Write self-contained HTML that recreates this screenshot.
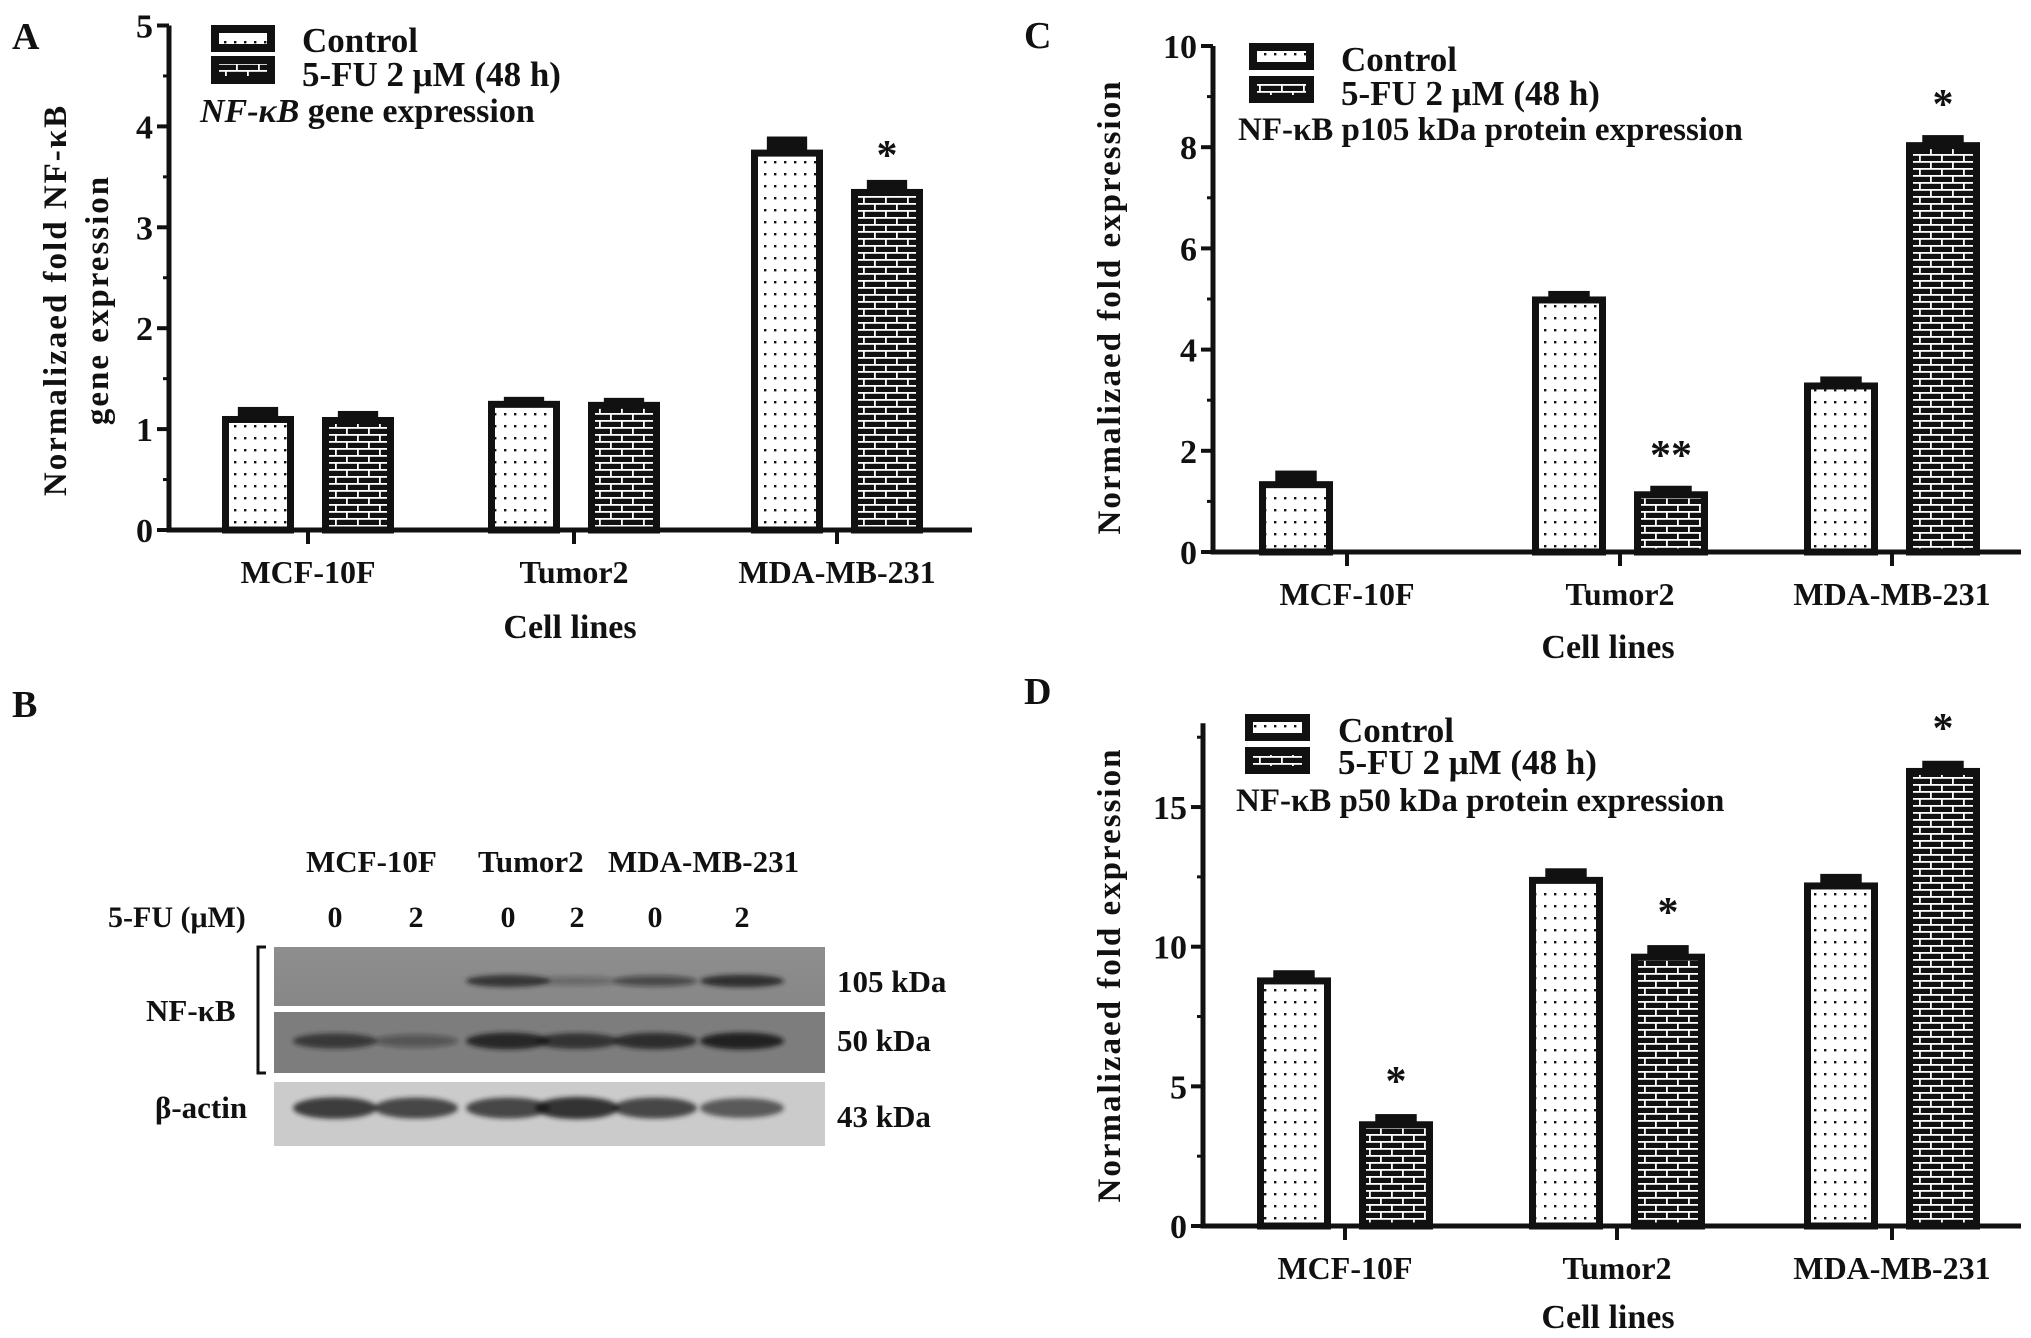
<!DOCTYPE html>
<html><head><meta charset="utf-8"><style>
html,body{margin:0;padding:0;background:#fff;}
svg{display:block;}
text{font-family:"Liberation Serif",serif;font-weight:bold;fill:#111;}
</style></head><body>
<svg id="fig" width="2031" height="1338" viewBox="0 0 2031 1338" xmlns="http://www.w3.org/2000/svg">
<defs>
<pattern id="dots" width="10" height="12" patternUnits="userSpaceOnUse">
<rect width="10" height="12" fill="#fff"/><rect x="4" y="5" width="2.4" height="2.4" fill="#111"/>
</pattern>
<pattern id="brick" width="22" height="14" patternUnits="userSpaceOnUse">
<rect width="22" height="14" fill="#111"/>
<rect x="0" y="0" width="22" height="1.8" fill="#fff"/>
<rect x="0" y="7" width="22" height="1.8" fill="#fff"/>
<rect x="5" y="0" width="1.8" height="7" fill="#fff"/>
<rect x="16" y="7" width="1.8" height="7" fill="#fff"/>
</pattern>
<linearGradient id="g1" x1="0" x2="0" y1="0" y2="1"><stop offset="0" stop-color="#8e8e8e"/><stop offset="1" stop-color="#878787"/></linearGradient>
<filter id="blur"><feGaussianBlur stdDeviation="2.5"/></filter>
</defs>

<text x="12" y="49" font-size="38">A</text>
<text x="12" y="717" font-size="38">B</text>
<text x="1024" y="48" font-size="38">C</text>
<text x="1024" y="704" font-size="38">D</text>

<g>
<rect x="215" y="29" width="56" height="19" fill="url(#dots)" stroke="#111" stroke-width="8"/>
<rect x="215" y="60" width="56" height="20" fill="url(#brick)" stroke="#111" stroke-width="8"/>
<text x="302" y="52" font-size="35">Control</text>
<text x="302" y="86" font-size="35">5-FU 2 μM (48 h)</text>
<text x="200" y="122" font-size="34"><tspan font-style="italic">NF-κB</tspan> gene expression</text>
</g>
<text transform="translate(66,300) rotate(-90)" text-anchor="middle" font-size="33" letter-spacing="2">Normalizaed fold  NF-κB</text>
<text transform="translate(108,300) rotate(-90)" text-anchor="middle" font-size="33" letter-spacing="2">gene expression</text>
<text x="570" y="638" text-anchor="middle" font-size="34">Cell lines</text>

<g>
<rect x="1253" y="47" width="57" height="19" fill="url(#dots)" stroke="#111" stroke-width="8"/>
<rect x="1253" y="80" width="57" height="19" fill="url(#brick)" stroke="#111" stroke-width="8"/>
<text x="1341" y="71" font-size="35">Control</text>
<text x="1341" y="105" font-size="35">5-FU 2 μM (48 h)</text>
<text x="1238" y="140" font-size="33">NF-κB p105 kDa protein expression</text>
</g>
<text transform="translate(1120,307) rotate(-90)" text-anchor="middle" font-size="33" letter-spacing="2">Normalizaed fold  expression</text>
<text x="1608" y="658" text-anchor="middle" font-size="34">Cell lines</text>

<g>
<rect x="1249" y="718" width="57" height="19" fill="url(#dots)" stroke="#111" stroke-width="8"/>
<rect x="1249" y="751" width="57" height="19" fill="url(#brick)" stroke="#111" stroke-width="8"/>
<text x="1338" y="742" font-size="35">Control</text>
<text x="1338" y="774" font-size="35">5-FU 2 μM (48 h)</text>
<text x="1236" y="811" font-size="33">NF-κB p50 kDa protein expression</text>
</g>
<text transform="translate(1120,975) rotate(-90)" text-anchor="middle" font-size="33" letter-spacing="2">Normalizaed fold  expression</text>
<text x="1608" y="1328" text-anchor="middle" font-size="34">Cell lines</text>

<g>
<text x="306" y="872" font-size="31">MCF-10F</text>
<text x="478" y="872" font-size="31">Tumor2</text>
<text x="608" y="872" font-size="31">MDA-MB-231</text>
<text x="108" y="927" font-size="30">5-FU (μM)</text>
<g id="doses"></g>
<rect x="274" y="947" width="551" height="59" fill="url(#g1)"/>
<rect x="274" y="1012" width="551" height="61" fill="#7d7d7d"/>
<rect x="274" y="1082" width="551" height="64" fill="#cbcbcb"/>
<g id="bands" filter="url(#blur)"></g>
<path d="M266 947 H258 V1073 H266" fill="none" stroke="#111" stroke-width="3"/>
<text x="146" y="1021" font-size="31">NF-κB</text>
<text x="155" y="1118" font-size="31">β-actin</text>
<text x="837" y="992" font-size="31">105 kDa</text>
<text x="837" y="1051" font-size="31">50 kDa</text>
<text x="837" y="1127" font-size="31">43 kDa</text>
</g>

<g id="charts"></g>
</svg>
<script>
const categories = ["MCF-10F","Tumor2","MDA-MB-231"];
const seriesNames = ["Control","5-FU 2 μM (48 h)"];
const geneControl = [1.13, 1.28, 3.77];
const geneControlErr = [0.06, 0.01, 0.10];
const gene5FU = [1.12, 1.27, 3.38];
const gene5FUErr = [0.03, 0.01, 0.06];
const p105Control = [1.4, 5.05, 3.35];
const p105ControlErr = [0.15, 0.05, 0.06];
const p1055FU = [0, 1.2, 8.1];
const p1055FUErr = [0, 0.05, 0.08];
const p50Control = [8.9, 12.5, 12.3];
const p50ControlErr = [0.15, 0.2, 0.2];
const p505FU = [3.75, 9.75, 16.4];
const p505FUErr = [0.15, 0.2, 0.15];
const geneTicks = [0,1,2,3,4,5];
const p105Ticks = [0,2,4,6,8,10];
const p50Ticks = [0,5,10,15];
const geneStars = ["","","*"];
const p105Stars = ["","**","*"];
const p50Stars = ["*","*","*"];
const doseLabels = ["0","2","0","2","0","2"];
const band105 = [0, 0, 0.75, 0.3, 0.55, 0.8];
const band50 = [0.7, 0.4, 0.85, 0.75, 0.8, 0.9];
const bandActin = [0.8, 0.75, 0.75, 0.85, 0.75, 0.65];

const NS = "http://www.w3.org/2000/svg";
function mk(tag, attrs, parent){
  const e = document.createElementNS(NS, tag);
  for (const k in attrs) e.setAttribute(k, attrs[k]);
  parent.appendChild(e);
  return e;
}
const charts = document.getElementById("charts");

function drawChart(cfg){
  const g = mk("g", {}, charts);
  
  
  const y = v => cfg.y0 - v * cfg.ppu;
  const yTop = y(cfg.yMax);
  const ax = mk("path", {d:`M${cfg.x0} ${yTop} V${cfg.y0} H${cfg.xEnd}`, fill:"none", stroke:"#111", "stroke-width":5}, g);
  
  
  for (let v = 0; v <= cfg.yMax + 1e-6; v += cfg.minor){
    mk("line", {x1:cfg.x0-6, x2:cfg.x0, y1:y(v), y2:y(v), stroke:"#111", "stroke-width":3}, g);
  }
  cfg.ticks.forEach(t => {
    mk("line", {x1:cfg.x0-12, x2:cfg.x0, y1:y(t), y2:y(t), stroke:"#111", "stroke-width":4}, g);
    const tx = mk("text", {x:cfg.x0-16, y:y(t)+12, "text-anchor":"end", "font-size":34}, g);
    tx.textContent = t;
    
    
  });
  categories.forEach((c, i) => {
    const cx = cfg.centers[i];
    mk("line", {x1:cx, x2:cx, y1:cfg.y0, y2:cfg.y0+14, stroke:"#111", "stroke-width":4}, g);
    const lb = mk("text", {x:cx, y:cfg.y0+53, "text-anchor":"middle", "font-size":32}, g);
    lb.textContent = c;
    
    
    const sets = [[cfg.ctrl, cfg.ctrlErr, "url(#dots)", -1], [cfg.tr, cfg.trErr, "url(#brick)", 1]];
    sets.forEach(([vals, errs, fill, side], s) => {
      const v = vals[i];
      if (v <= 0) return;
      const bx = cx + side * cfg.off - cfg.bw/2;
      const r = mk("rect", {x:bx+3.5, y:y(v)+3.5, width:cfg.bw-7, height:cfg.y0-y(v)-3.5, fill:fill, stroke:"#111", "stroke-width":7}, g);
      
      
      const e = errs[i];
      const ecx = bx + cfg.bw/2;
      const eb = mk("rect", {x:ecx-cfg.bw*0.28, y:y(v+e)-3, width:cfg.bw*0.56, height:Math.max(6, y(v)-y(v+e)+6), fill:"#111"}, g);
      
      
      if (s === 1 && cfg.stars[i]){
        const st = mk("text", {x:ecx, y:y(v+e)-cfg.starGap, "text-anchor":"middle", "font-size":42}, g);
        st.textContent = cfg.stars[i];
        
        
      }
    });
  });
}

drawChart({name:"chart-a-gene", x0:169, y0:530, ppu:100.9, yMax:5, minor:0.5, xEnd:972,
  ticks:geneTicks, centers:[308,574,837], off:50, bw:72,
  ctrl:geneControl, ctrlErr:geneControlErr, tr:gene5FU, trErr:gene5FUErr, stars:geneStars, starGap:14});
drawChart({name:"chart-c-p105", x0:1213, y0:552, ppu:50.6, yMax:10, minor:1, xEnd:2021,
  ticks:p105Ticks, centers:[1347,1620,1892], off:51, bw:74,
  ctrl:p105Control, ctrlErr:p105ControlErr, tr:p1055FU, trErr:p1055FUErr, stars:p105Stars, starGap:20});
drawChart({name:"chart-d-p50", x0:1203, y0:1226, ppu:27.93, yMax:18, minor:2.5, xEnd:2021,
  ticks:p50Ticks, centers:[1345,1617,1892], off:51, bw:74,
  ctrl:p50Control, ctrlErr:p50ControlErr, tr:p505FU, trErr:p505FUErr, stars:p50Stars, starGap:22});

const laneX = [335, 416, 508, 577, 655, 742];
const dg = document.getElementById("doses");
doseLabels.forEach((d, i) => {
  const t = mk("text", {x:laneX[i], y:927, "text-anchor":"middle", "font-size":30}, dg);
  t.textContent = d;
  
  
});
const bg = document.getElementById("bands");
function bands(arr, cy, h){
  arr.forEach((a, i) => {
    if (a <= 0) return;
    const e = mk("ellipse", {cx:laneX[i], cy:cy, rx:42, ry:h*(0.5+a*0.5), fill:"#1a1a1a", "fill-opacity":a}, bg);
    
    
  });
}
bands(band105, 981, 7);
bands(band50, 1041, 9);
bands(bandActin, 1108, 12);
</script>
</body></html>
